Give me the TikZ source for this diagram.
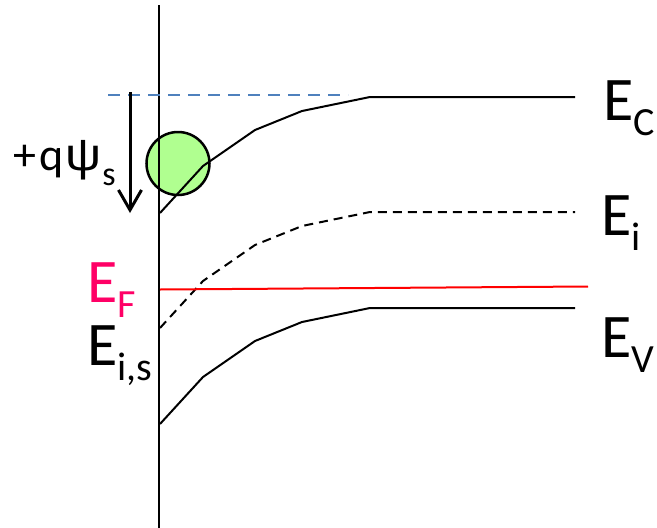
\documentclass[tikz,border=0pt]{standalone}
\usepackage{fontspec}
\setmainfont{Carlito}
\newfontfamily\psifont{Liberation Sans}
\usetikzlibrary{arrows.meta}
\definecolor{efmag}{RGB}{255,0,102}
\definecolor{dashblue}{RGB}{79,129,189}
\definecolor{holegreen}{RGB}{176,255,144}
\tikzset{
  band/.style={line width=2pt, line join=round},
  lbl/.style={inner sep=0pt, anchor=base west, font=\fontsize{62}{62}\selectfont},
  small/.style={inner sep=0pt, anchor=base west, font=\fontsize{46}{46}\selectfont},
}
\newcommand{\bigsub}[1]{\raisebox{-15pt}{\fontsize{40}{40}\selectfont #1}}
\newcommand{\smallsub}[1]{\raisebox{-15pt}{\fontsize{34}{34}\selectfont #1}}
\begin{document}
\begin{tikzpicture}[x=1pt,y=-1pt]
\useasboundingbox (0,0) rectangle (657,528);
% hole
\node[circle, draw, line width=2.5pt, fill=holegreen, minimum size=63pt, inner sep=0pt] (hole) at (178,163.5) {};
% axis
\coordinate (axtop) at (159,5);
\coordinate (axbot) at (159,528);
\draw[line width=2pt] (axtop) -- (axbot);
% conduction band
\coordinate (c0) at (160,213);
\coordinate (c1) at (203,166);
\coordinate (c2) at (255,130);
\coordinate (c3) at (302,111);
\coordinate (c4) at (370,97);
\coordinate (c5) at (575,97);
\draw[band] (c0)--(c1)--(c2)--(c3)--(c4)--(c5);
% intrinsic level
\coordinate (i0) at (160,328);
\coordinate (i1) at (203,281);
\coordinate (i2) at (255,245);
\coordinate (i3) at (302,226);
\coordinate (i4) at (370,212);
\coordinate (i5) at (575,212);
\draw[band, dash pattern=on 9pt off 6pt] (i0)--(i1)--(i2)--(i3)--(i4)--(i5);
% valence band
\coordinate (v0) at (160,424);
\coordinate (v1) at (203,377);
\coordinate (v2) at (255,341);
\coordinate (v3) at (302,322);
\coordinate (v4) at (370,308);
\coordinate (v5) at (575,308);
\draw[band] (v0)--(v1)--(v2)--(v3)--(v4)--(v5);
% Fermi level
\coordinate (f0) at (160,289.5);
\coordinate (f1) at (588,286.5);
\draw[line width=2pt, red] (f0) -- (f1);
% flat-band reference
\coordinate (b0) at (108,95);
\coordinate (b1) at (348,95);
\draw[line width=2pt, dashblue, dash pattern=on 12pt off 8pt] (b0) -- (b1);
% surface potential arrow
\coordinate (a0) at (130,92);
\coordinate (a1) at (130,213);
\draw[line width=3pt, -{Straight Barb[length=20pt,width=23pt,line width=3pt]}] (a0) -- (a1);
% labels
\node[small] (psi) at (13,170) {+\kern3pt q\kern2pt{\psifont\scalebox{1.1}[1.0]{ψ}}\kern1pt\smallsub{s}};
\node[lbl] (EC) at (603,120) {E\bigsub{C}};
\node[lbl] (Ei) at (601,235) {E\bigsub{i}};
\node[lbl] (EV) at (601,357) {E\bigsub{V}};
\node[lbl, text=efmag] (EF) at (87,302) {E\bigsub{F}};
\node[lbl] (Eis) at (87,365) {E\bigsub{i,s}};
\end{tikzpicture}
\end{document}
